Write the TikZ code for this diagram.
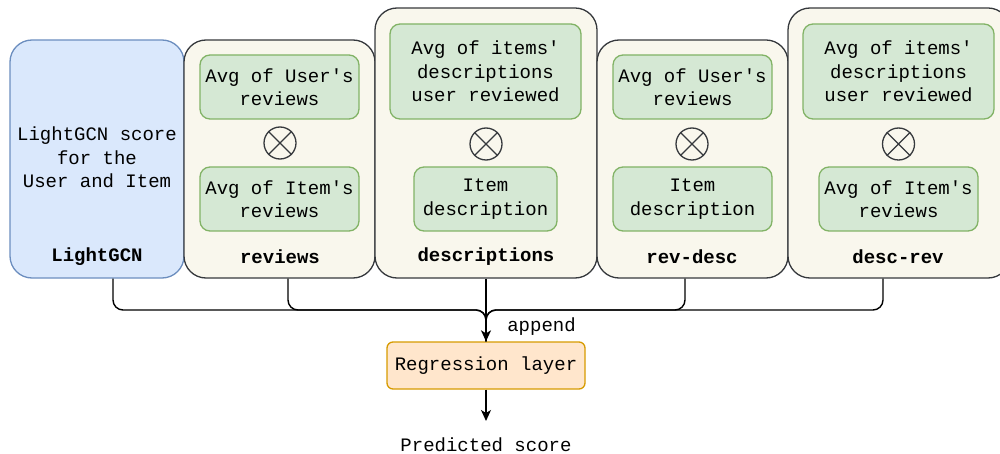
\documentclass[tikz,border=0pt]{standalone}
\usepackage{fontspec}
\newfontfamily\monofam{Liberation Mono}
\usetikzlibrary{arrows.meta}
\definecolor{blueFill}{HTML}{DAE8FC}
\definecolor{blueLine}{HTML}{6C8EBF}
\definecolor{paperFill}{HTML}{F9F7ED}
\definecolor{paperLine}{HTML}{36393D}
\definecolor{greenFill}{HTML}{D5E8D4}
\definecolor{greenLine}{HTML}{82B366}
\definecolor{orangeFill}{HTML}{FFE6CC}
\definecolor{orangeLine}{HTML}{D79B00}
\tikzset{
  txt/.style={font=\monofam\fontsize{19}{23.5}\selectfont, align=center, text=black},
  group/.style={draw=paperLine, fill=paperFill, line width=1.3pt, rounded corners=22pt, inner sep=0pt},
  lgbox/.style={draw=blueLine, fill=blueFill, line width=1.3pt, rounded corners=22pt, inner sep=0pt},
  feat/.style={txt, draw=greenLine, fill=greenFill, line width=1.3pt, rounded corners=10pt, inner sep=0pt},
  groupname/.style={txt, font=\monofam\bfseries\fontsize{19}{23.5}\selectfont},
  prod/.style={circle, draw=paperLine, line width=1.3pt, minimum size=32pt, inner sep=0pt},
  link/.style={draw=black, line width=1.4pt, rounded corners=10pt},
  regbox/.style={txt, draw=orangeLine, fill=orangeFill, line width=1.3pt, rounded corners=6pt, inner sep=0pt},
}
\newcommand{\crossmark}[1]{\draw[paperLine, line width=1.3pt] (#1.north west) -- (#1.south east) (#1.north east) -- (#1.south west);}
\begin{document}
\begin{tikzpicture}[x=1pt, y=-1pt]
\useasboundingbox (0,0) rectangle (1000,454);

% outer group boxes
\node[lgbox, minimum width=174pt, minimum height=238pt] (lg) at (97,159) {};
\node[group, minimum width=191pt, minimum height=238pt] (rv) at (279.5,159) {};
\node[group, minimum width=222pt, minimum height=270pt] (ds) at (486,143) {};
\node[group, minimum width=191pt, minimum height=238pt] (rd) at (692.5,159) {};
\node[group, minimum width=222pt, minimum height=270pt] (dr) at (899,143) {};

% LightGCN
\node[txt] (lgtext) at (97,157.5) {LightGCN score\\for the\\User and Item};
\node[groupname] (lgname) at (97,256.5) {LightGCN};

% reviews
\node[feat, minimum width=159pt, minimum height=64pt] (rvA) at (279.5,87) {Avg of User's\\reviews};
\node[prod] (rvX) at (280,143) {};
\crossmark{rvX}
\node[feat, minimum width=159pt, minimum height=64pt] (rvB) at (279.5,199) {Avg of Item's\\reviews};
\node[groupname] (rvname) at (280,256.5) {reviews};

% descriptions
\node[feat, minimum width=191pt, minimum height=95pt] (dsA) at (485.5,71.5) {Avg of items'\\descriptions\\user reviewed};
\node[prod] (dsX) at (486,144) {};
\crossmark{dsX}
\node[feat, minimum width=143pt, minimum height=64pt] (dsB) at (485.5,199) {Item\\description};
\node[groupname] (dsname) at (486,256.5) {descriptions};

% rev-desc
\node[feat, minimum width=159pt, minimum height=64pt] (rdA) at (692.5,87) {Avg of User's\\reviews};
\node[prod] (rdX) at (692,144) {};
\crossmark{rdX}
\node[feat, minimum width=159pt, minimum height=64pt] (rdB) at (692.5,199) {Item\\description};
\node[groupname] (rdname) at (692,256.5) {rev-desc};

% desc-rev
\node[feat, minimum width=191pt, minimum height=95pt] (drA) at (898.5,71.5) {Avg of items'\\descriptions\\user reviewed};
\node[prod] (drX) at (898.5,144) {};
\crossmark{drX}
\node[feat, minimum width=159pt, minimum height=64pt] (drB) at (898.5,199) {Avg of Item's\\reviews};
\node[groupname] (drname) at (898,256.5) {desc-rev};

% regression and output
\node[regbox, minimum width=198pt, minimum height=47pt] (reg) at (486,365.5) {Regression layer};
\node[txt] (out) at (486,445) {Predicted score};
\coordinate (merge) at (486,310);

% connectors
\draw[link] ([xshift=16pt]lg.south) |- (merge) -- (reg.north);
\draw[link] ([xshift=8.5pt]rv.south) |- (merge) -- (reg.north);
\draw[link] ([xshift=-7.5pt]rd.south) |- (merge) -- (reg.north);
\draw[link] ([xshift=-16pt]dr.south) |- (merge) -- (reg.north);
\draw[link, -{Stealth[length=11pt, width=10pt, inset=3pt]}] (ds.south) -- (reg.north);
\node[txt] (lbl) at (541.5,327) {append};
\draw[link, -{Stealth[length=11pt, width=10pt, inset=3pt]}] (reg.south) -- (486,421);
\end{tikzpicture}
\end{document}
